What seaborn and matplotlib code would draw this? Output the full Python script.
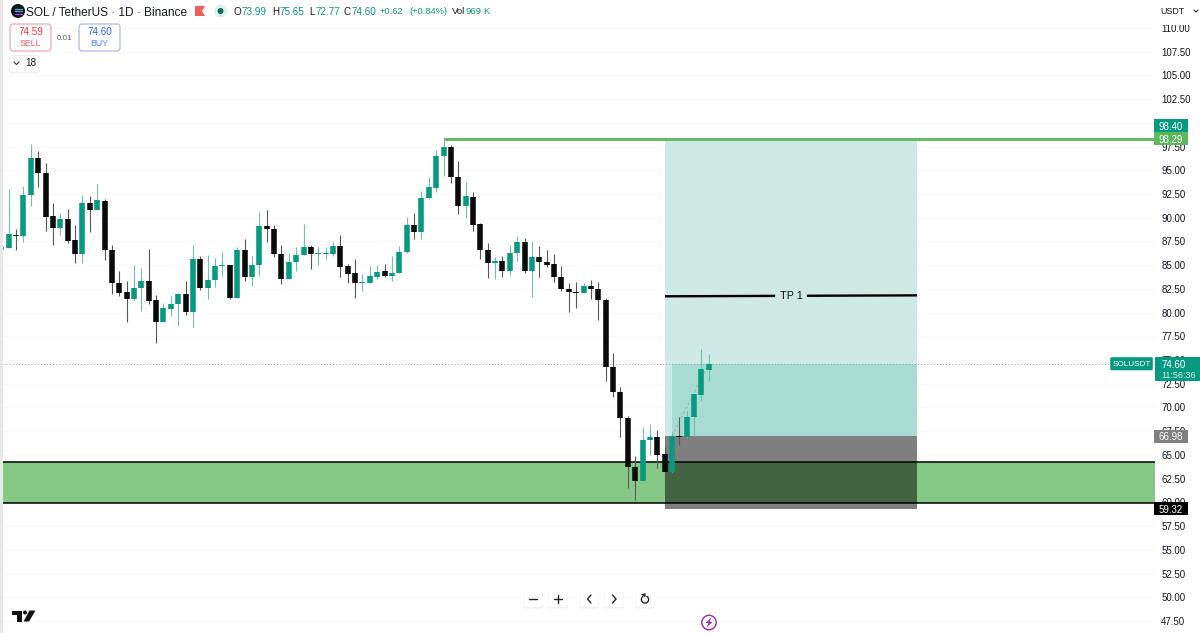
import numpy as np
import pandas as pd
import matplotlib
matplotlib.use("Agg")
import matplotlib.pyplot as plt
from matplotlib.patches import Rectangle, FancyBboxPatch, Circle, Polygon
import seaborn as sns

# Daily SOL/USDT candles, oldest first
opens = [86.60, 86.81, 88.22, 88.07, 92.36, 96.26, 94.68, 90.18, 88.95, 89.90, 87.62, 86.21, 91.52, 90.85, 91.80, 86.60,
         83.16, 82.14, 81.47, 82.59, 83.30, 81.29, 79.01, 80.38, 80.91, 81.96, 80.10, 85.65, 82.59, 83.40, 84.91, 84.98,
         81.54, 86.60, 83.75, 84.98, 89.13, 88.85, 86.21, 83.51, 85.33, 86.07, 86.95, 86.21, 86.21, 86.21, 87.02, 84.91,
         84.14, 83.12, 83.12, 83.79, 84.35, 83.89, 84.18, 86.35, 89.23, 88.50, 92.08, 93.13, 96.51, 97.46, 94.33, 91.24,
         92.22, 89.31, 86.64, 85.23, 85.48, 84.35, 86.25, 87.41, 84.39, 85.86, 85.37, 85.13, 83.79, 82.53, 82.21, 82.07,
         82.81, 82.53, 81.33, 74.30, 71.67, 68.93, 63.76, 62.22, 66.58, 66.89, 65.06, 63.24, 67.03, 66.93, 68.96, 71.32, 73.99]
highs = [86.95, 93.03, 88.78, 93.34, 97.77, 97.03, 95.73, 91.52, 90.53, 90.89, 89.20, 92.36, 92.29, 93.52, 92.01, 87.09,
         84.39, 83.30, 85.05, 84.67, 86.67, 81.82, 80.98, 81.72, 82.10, 83.30, 87.09, 85.97, 86.04, 85.72, 86.35, 85.02,
         86.88, 87.72, 85.97, 90.57, 90.81, 89.20, 87.16, 86.25, 86.88, 89.34, 87.16, 87.02, 86.88, 87.44, 88.15, 85.12,
         85.65, 84.07, 84.95, 85.05, 85.09, 85.97, 87.06, 90.11, 90.53, 92.85, 94.26, 97.14, 98.37, 97.70, 96.02, 93.73,
         92.68, 89.41, 87.37, 85.90, 86.00, 87.13, 88.08, 87.90, 87.55, 87.06, 86.57, 86.21, 84.91, 83.09, 83.26, 83.16,
         83.47, 83.19, 81.51, 75.78, 72.20, 69.10, 64.92, 67.98, 68.26, 67.63, 65.87, 67.45, 68.96, 69.67, 71.39, 76.17, 75.65]
lows = [86.60, 86.81, 86.60, 87.48, 91.27, 93.20, 88.64, 87.09, 88.22, 87.30, 85.26, 85.19, 88.53, 90.81, 85.55, 81.96,
        81.79, 79.05, 81.29, 80.14, 80.91, 76.83, 79.01, 79.68, 78.62, 79.75, 78.45, 82.35, 81.47, 82.74, 83.89, 81.40,
        81.54, 83.37, 82.80, 83.89, 87.48, 85.90, 83.05, 83.51, 84.42, 86.04, 84.60, 84.98, 85.65, 85.97, 83.72, 83.09,
        81.51, 82.28, 83.09, 83.58, 83.72, 83.33, 84.14, 86.25, 87.76, 87.72, 92.01, 92.75, 94.40, 93.70, 90.40, 89.94,
        88.64, 85.62, 83.61, 83.58, 83.79, 83.93, 85.48, 84.14, 81.68, 83.79, 84.84, 83.26, 82.25, 80.10, 80.45, 82.03,
        81.44, 79.22, 72.83, 71.07, 66.93, 61.55, 60.25, 62.08, 64.99, 63.66, 62.54, 63.24, 66.05, 66.82, 67.03, 70.72, 72.77]
closes = [86.95, 88.29, 88.07, 92.36, 96.30, 94.68, 90.11, 88.92, 89.90, 87.58, 86.21, 91.52, 90.85, 91.83, 86.60, 83.12,
          82.07, 81.47, 82.63, 83.30, 81.19, 79.01, 80.49, 80.91, 81.96, 80.10, 85.65, 82.59, 83.40, 84.95, 85.02, 81.54,
          86.60, 83.75, 85.02, 89.13, 88.78, 86.14, 83.51, 85.37, 86.07, 86.95, 86.18, 86.28, 86.28, 87.02, 84.84, 84.10,
          83.09, 83.19, 83.86, 84.32, 83.89, 84.21, 86.39, 89.23, 88.53, 92.11, 93.20, 96.54, 97.46, 94.33, 91.24, 92.26,
          89.27, 86.60, 85.23, 85.48, 84.35, 86.25, 87.41, 84.39, 85.86, 85.34, 85.04, 83.76, 82.46, 82.17, 82.10, 82.81,
          82.49, 81.30, 74.30, 71.63, 68.93, 63.69, 62.22, 66.58, 66.89, 65.03, 63.24, 67.03, 66.86, 69.00, 71.39, 74.06, 74.60]
first_bar = -1

# Trade plan levels
target_price = 98.40
resistance_price = 98.29
tp1_left, tp1_right = 81.72, 81.82
entry_price = 66.98
stop_price = 59.32
last_price = 74.60
zone_top, zone_bottom = 64.26, 59.93
position_start, fill_start, position_end = 89.05, 90.0, 123.24
resistance_start = 59.0
gap_start, gap_end = 104.0, 108.3

axis_ticks = [47.5 + 2.5 * k for k in range(26)]

# Text of the symbol header
title_text = "SOL / TetherUS · 1D · Binance"
ohlc_header = [("O", 234, "73.99", 242), ("H", 272, "75.65", 280), ("L", 309, "72.77", 316), ("C", 344, "74.60", 351)]

UP, DOWN = "#089981", "#0a0a0a"
UP_WICK, DOWN_WICK = "#6fbfae", "#585858"
FONT = "Liberation Sans"

sns.set_theme(style="white", rc={"font.family": FONT, "figure.facecolor": "white"})
fig = plt.figure(figsize=(12, 6.33), dpi=100)
ax = fig.add_axes([0, 0, 1155 / 1200, 1])

bars = np.arange(len(opens)) + first_bar
candles = pd.DataFrame({"bar": bars, "open": opens, "high": highs, "low": lows, "close": closes})
candles["direction"] = np.where(candles["close"] >= candles["open"], "up", "down")

# Pixel scale of the price pane
to_bar = lambda px: (px - 8.7) / 7.37
to_price = lambda py: 112.95 - 0.1054 * py
to_py = lambda price: (112.95 - price) / 0.1054

ax.set_xlim(to_bar(0), to_bar(1155))
ax.set_ylim(to_price(633), to_price(0))

# Demand zone and the long position boxes sit behind the candles
x_left = to_bar(2.5)
x_right = to_bar(1155)
ax.add_patch(Rectangle((x_left, zone_bottom), x_right - x_left, zone_top - zone_bottom, color="#86c987", lw=0, zorder=1))
ax.add_patch(Rectangle((position_start, entry_price), position_end - position_start, target_price - entry_price,
                       color="#cfeae4", lw=0, zorder=1.1))
ax.add_patch(Rectangle((fill_start, entry_price), position_end - fill_start, last_price - entry_price,
                       color="#a8dbd2", lw=0, zorder=1.2))
ax.add_patch(Rectangle((position_start, stop_price), position_end - position_start, entry_price - stop_price,
                       color="black", alpha=0.5, lw=0, zorder=1.3))
for level in (zone_top, zone_bottom):
    ax.plot([x_left, x_right], [level, level], color="black", lw=1.1, zorder=1.4)

# Candles: thin wicks, then thick flat-capped bodies
wicks = candles.melt(id_vars=["bar", "direction"], value_vars=["low", "high"], value_name="price")
candles["top"] = candles[["open", "close"]].max(axis=1)
candles["bottom"] = candles[["open", "close"]].min(axis=1)
bodies = candles.melt(id_vars=["bar", "direction"], value_vars=["bottom", "top"], value_name="price")
sns.lineplot(data=wicks, x="bar", y="price", hue="direction", units="bar", estimator=None, sort=False,
             palette={"up": UP_WICK, "down": DOWN_WICK}, legend=False, lw=0.8, solid_capstyle="butt", zorder=3, ax=ax)
sns.lineplot(data=bodies, x="bar", y="price", hue="direction", units="bar", estimator=None, sort=False,
             palette={"up": UP, "down": DOWN}, legend=False, lw=4.0, solid_capstyle="butt", zorder=4, ax=ax)

# Drawn levels
ax.plot([resistance_start, x_right], [resistance_price, resistance_price], color="#66bb6a", lw=2.2,
        solid_capstyle="butt", zorder=5)
slope = (tp1_right - tp1_left) / (position_end - position_start)
tp_at = lambda b: tp1_left + slope * (b - position_start)
ax.plot([position_start, gap_start], [tp_at(position_start), tp_at(gap_start)], color="black", lw=1.7, zorder=5,
        solid_capstyle="butt")
ax.plot([gap_end, position_end], [tp_at(gap_end), tp_at(position_end)], color="black", lw=1.7, zorder=5,
        solid_capstyle="butt")
ax.text((gap_start + gap_end) / 2, tp_at(106), "TP 1", ha="center", va="center", fontsize=7.8, color="#111111", zorder=6)
ax.plot([x_left, x_right], [last_price, last_price], color="#7fa8a0", lw=0.7, ls=(0, (1, 2.2)), zorder=2)
ax.plot([fill_start, bars[-1]], [entry_price, closes[-1]], color="#9fb8b2", lw=0.8, ls=(0, (2.5, 2)), zorder=2.5)

# Price scale on the right; the 100.00 row sits under the target tag
ax.set(xlabel="", ylabel="", xticks=[])
ax.yaxis.tick_right()
ax.set_yticks(axis_ticks)
ax.set_yticklabels(["" if t == 100 else f"{t:.2f}" for t in axis_ticks], fontsize=7.0, color="#131722")
ax.tick_params(axis="y", length=0, pad=4.5)
ax.grid(axis="y", color="#fafafa", lw=0.8)
ax.set_axisbelow(True)
sns.despine(ax=ax, left=True, right=True, top=True, bottom=True)

# Overlay in pixel units for the terminal's interface elements
ui = fig.add_axes([0, 0, 1, 1], zorder=10)
ui.set_xlim(0, 1200)
ui.set_ylim(633, 0)
ui.axis("off")
ui.patch.set_alpha(0)
ui.add_patch(Rectangle((0, 0), 2.5, 633, color="#e8e8e8", lw=0))


def price_tag(price, face, cy=None, half=6.5):
    cy = to_py(price) if cy is None else cy
    ui.add_patch(Rectangle((1154, cy - half), 34, 2 * half, color=face, lw=0))
    ui.text(1171, cy, f"{price:.2f}", color="white", fontsize=7.0, ha="center", va="center_baseline")


# Target and resistance tags are stacked so both stay readable
price_tag(target_price, UP, cy=125.5)
price_tag(resistance_price, "#5cb85c", cy=138.7)
price_tag(entry_price, "#808080")
price_tag(stop_price, "#000000")

# Live price tag with countdown and symbol
ui.add_patch(Rectangle((1155, 357), 45, 24, color=UP, lw=0))
ui.text(1161, 364, f"{last_price:.2f}", color="white", fontsize=7.0, va="center_baseline")
ui.text(1161, 375, "11:56:36", color="#d5f0ea", fontsize=6.5, va="center_baseline")
ui.add_patch(FancyBboxPatch((1111, 358), 41, 11.5, boxstyle="round,pad=0.8,rounding_size=1.5", color=UP, lw=0))
ui.text(1131.5, 364, "SOLUSDT", color="white", fontsize=5.9, ha="center", va="center_baseline")

# Currency selector
ui.add_patch(Rectangle((1156, 0), 44, 25, color="white", lw=0))
ui.text(1160, 11, "USDT", color="#131722", fontsize=6.4, va="center_baseline")
ui.plot([1194, 1196, 1198], [10, 12, 10], color="#333333", lw=0.8)

# Symbol header
ui.add_patch(Circle((18, 11), 7, color="#14141f", lw=0))
for dy, col in zip((-2.5, 0, 2.5), ("#25d0b0", "#6f8fe0", "#a050e0")):
    ui.plot([14.5, 21.5], [11 + dy, 11 + dy], color=col, lw=0.9)
ui.text(26, 11, title_text, color="#131722", fontsize=8.6, va="center_baseline")
ui.add_patch(Polygon([(195, 6), (205, 6), (202, 11), (205, 16), (195, 16)], color="#f45b5b", lw=0))
ui.add_patch(Circle((220.5, 11), 6.5, color="#dff1ed", lw=0))
ui.add_patch(Circle((220.5, 11), 3, color="#0b6b57", lw=0))
for key, kx, value, vx in ohlc_header:
    ui.text(kx, 11, key, color="#131722", fontsize=7.1, va="center_baseline")
    ui.text(vx, 11, value, color=UP, fontsize=7.1, va="center_baseline")
ui.text(380, 11, "+0.62", color=UP, fontsize=6.7, va="center_baseline")
ui.text(409, 11, "(+0.84%)", color=UP, fontsize=6.7, va="center_baseline")
ui.text(452, 11, "Vol", color="#131722", fontsize=6.8, va="center_baseline")
ui.text(465.5, 11, "969", color=UP, fontsize=6.8, va="center_baseline")
ui.text(483, 11, "K", color=UP, fontsize=6.8, va="center_baseline")

# Order buttons
for (x0, col, edge, price, side) in [(9.5, "#f23645", "#f2aab2", "74.59", "SELL"), (78.5, "#2962ff", "#aabcf2", "74.60", "BUY")]:
    ui.add_patch(FancyBboxPatch((x0 + 2, 25.5), 38, 24, boxstyle="round,pad=1.5,rounding_size=3", fc="white", ec=edge, lw=0.9))
    ui.text(x0 + 21, 31, price, color=col, fontsize=7.1, ha="center", va="center_baseline")
    ui.text(x0 + 21, 42, side, color=col, fontsize=6.3, alpha=0.8, ha="center", va="center_baseline")
ui.text(64.5, 37, "0.01", color="#555b66", fontsize=5.8, ha="center", va="center_baseline")

# Collapsed indicators counter
ui.add_patch(FancyBboxPatch((10, 56), 28, 16.5, boxstyle="round,pad=0.5,rounding_size=2", fc="white", ec="#eeeeee", lw=0.7))
ui.plot([14, 16.5, 19], [62, 64.5, 62], color="#333333", lw=0.8)
ui.text(25, 62.5, "18", color="#131722", fontsize=7.2, va="center_baseline")

# Navigation buttons along the bottom
for cx in (533, 558, 589, 614, 645):
    ui.add_patch(FancyBboxPatch((cx - 9.5, 591), 19, 17, boxstyle="round,pad=0.5,rounding_size=2.5", fc="#f2f2f2", ec="none", lw=0))
    ui.add_patch(FancyBboxPatch((cx - 9, 590), 18, 16.5, boxstyle="round,pad=0.5,rounding_size=2.5", fc="white", ec="none", lw=0))
ui.plot([529, 537], [599, 599], color="#222222", lw=1.0)
ui.plot([554, 562], [599, 599], color="#222222", lw=1.0)
ui.plot([558, 558], [595, 603], color="#222222", lw=1.0)
ui.plot([591, 587.5, 591], [595, 599, 603], color="#222222", lw=1.0)
ui.plot([612.5, 616, 612.5], [595, 599, 603], color="#222222", lw=1.0)
theta = np.radians(np.arange(-60, 235, 10))
ui.plot(645 + 3.6 * np.cos(theta), 599.5 + 3.6 * np.sin(theta), color="#222222", lw=1.0)
ui.add_patch(Polygon([(641, 594.5), (645.5, 593), (645.5, 597.5)], color="#222222", lw=0))

# Lightning badge
ui.add_patch(Circle((709, 622.5), 7.2, fc="white", ec="#9c27b0", lw=1.0))
ui.add_patch(Polygon([(711.5, 617.5), (705.5, 623), (708.5, 623), (706.5, 627.5), (712.5, 622), (709.5, 622)], color="#9c27b0", lw=0))

# TradingView mark
ui.add_patch(Polygon([(12, 610.5), (22, 610.5), (22, 621.5), (17, 621.5), (17, 615), (12, 615)], color="#111111", lw=0))
ui.add_patch(Circle((25, 612.5), 2, color="#111111", lw=0))
ui.add_patch(Polygon([(29.5, 610.5), (35.5, 610.5), (29, 621.5), (23.5, 621.5)], color="#111111", lw=0))

fig.savefig("out.png", dpi=100)
